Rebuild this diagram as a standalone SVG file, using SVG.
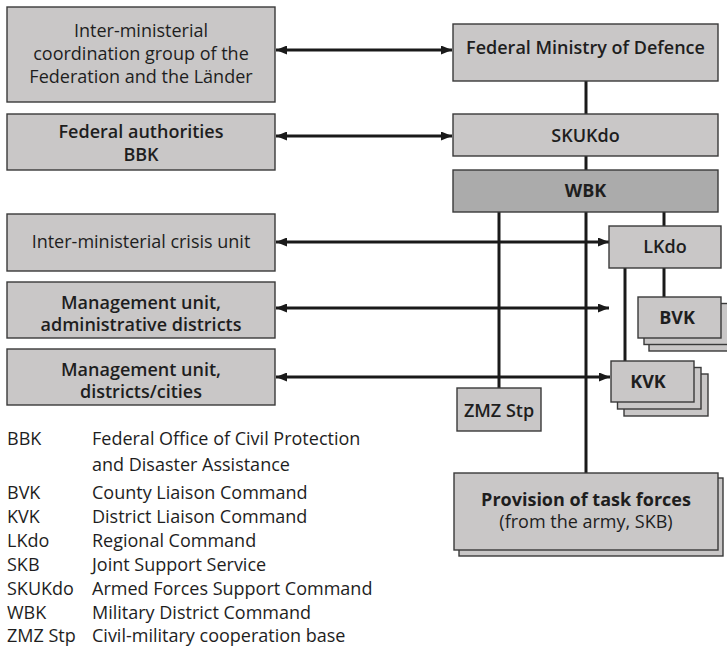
<svg xmlns="http://www.w3.org/2000/svg" width="727" height="649" viewBox="0 0 727 649">
<defs>
<style>
.box{fill:#c9c7c7;stroke:#3a3a3a;stroke-width:1.4}
.dark{fill:#ababab;stroke:#3a3a3a;stroke-width:1.4}
.ln{stroke:#1a1a1a;stroke-width:3;fill:none}
.arr{stroke:#1a1a1a;stroke-width:3;fill:none;marker-start:url(#ah);marker-end:url(#ah)}
text{font-family:"Open Sans","Liberation Sans",sans-serif;font-size:18px;fill:#1e1e1e}
.c{text-anchor:middle}
.b{font-weight:600}
.bb{font-weight:700}
</style>
<marker id="ah" viewBox="0 0 11 9" refX="11" refY="4.5" markerWidth="11" markerHeight="9" markerUnits="userSpaceOnUse" orient="auto-start-reverse">
<path d="M0,0 L11,4.5 L0,9 z" fill="#1a1a1a"/>
</marker>
</defs>

<g id="connectors">
<line class="arr" x1="276" y1="50" x2="452" y2="50"/>
<line class="arr" x1="276" y1="136" x2="452" y2="136"/>
<line class="arr" x1="276" y1="242" x2="609" y2="242"/>
<line class="arr" x1="276" y1="308" x2="609" y2="308"/>
<line class="arr" x1="276" y1="377" x2="610" y2="377"/>
<line class="ln" x1="586" y1="81" x2="586" y2="114"/>
<line class="ln" x1="586" y1="156" x2="586" y2="170"/>
<line class="ln" x1="499" y1="212" x2="499" y2="388"/>
<line class="ln" x1="586" y1="212" x2="586" y2="473"/>
<line class="ln" x1="664" y1="212" x2="664" y2="226"/>
<line class="ln" x1="664" y1="268" x2="664" y2="297"/>
<line class="ln" x1="625" y1="268" x2="625" y2="361"/>
</g>

<g id="coord-group">
<rect class="box" x="7" y="7" width="268" height="95"/>
<text class="c" x="141" y="37">Inter-ministerial</text>
<text class="c" x="141" y="60">coordination group of the</text>
<text class="c" x="141" y="83">Federation and the Länder</text>
</g>
<g id="federal-authorities">
<rect class="box" x="7" y="114" width="268" height="56"/>
<text class="c b" x="141" y="138">Federal authorities</text>
<text class="c b" x="141" y="161">BBK</text>
</g>
<g id="crisis-unit">
<rect class="box" x="7" y="214" width="268" height="57"/>
<text class="c" x="141" y="248">Inter-ministerial crisis unit</text>
</g>
<g id="mgmt-admin">
<rect class="box" x="7" y="282" width="268" height="56"/>
<text class="c b" x="141" y="309">Management unit,</text>
<text class="c b" x="141" y="331">administrative districts</text>
</g>
<g id="mgmt-cities">
<rect class="box" x="7" y="349" width="268" height="56"/>
<text class="c b" x="141" y="376">Management unit,</text>
<text class="c b" x="141" y="398">districts/cities</text>
</g>

<g id="bmvg">
<rect class="box" x="453" y="24" width="265" height="57"/>
<text class="c b" x="585.5" y="54">Federal Ministry of Defence</text>
</g>
<g id="skukdo">
<rect class="box" x="453" y="114" width="265" height="42"/>
<text class="c b" x="585.5" y="142">SKUKdo</text>
</g>
<g id="wbk">
<rect class="dark" x="453" y="170" width="265" height="42"/>
<text class="c bb" x="585.5" y="197">WBK</text>
</g>
<g id="lkdo">
<rect class="box" x="609" y="226" width="112" height="42"/>
<text class="c b" x="665" y="253">LKdo</text>
</g>
<g id="bvk">
<rect class="box" x="649" y="310" width="84" height="41"/>
<rect class="box" x="644" y="303.5" width="84" height="41"/>
<rect class="box" x="638" y="297" width="83" height="41"/>
<text class="c bb" x="677" y="324">BVK</text>
</g>
<g id="kvk">
<rect class="box" x="624" y="374" width="84" height="42"/>
<rect class="box" x="617.5" y="367.5" width="83.5" height="41.5"/>
<rect class="box" x="611" y="361" width="83" height="41"/>
<text class="c bb" x="648" y="388">KVK</text>
</g>
<g id="zmz">
<rect class="box" x="457" y="388" width="84" height="43"/>
<text class="c b" x="499" y="417">ZMZ Stp</text>
</g>
<g id="provision">
<rect class="box" x="459" y="478" width="264" height="78"/>
<rect class="box" x="454" y="473" width="264" height="77"/>
<text class="c bb" x="586" y="506">Provision of task forces</text>
<text class="c" x="586" y="528">(from the army, SKB)</text>
</g>

<g id="legend">
<text x="7" y="445">BBK</text><text x="92" y="445">Federal Office of Civil Protection</text>
<text x="92" y="471">and Disaster Assistance</text>
<text x="7" y="499">BVK</text><text x="92" y="499">County Liaison Command</text>
<text x="7" y="523">KVK</text><text x="92" y="523">District Liaison Command</text>
<text x="7" y="547">LKdo</text><text x="92" y="547">Regional Command</text>
<text x="7" y="571">SKB</text><text x="92" y="571">Joint Support Service</text>
<text x="7" y="595">SKUKdo</text><text x="92" y="595">Armed Forces Support Command</text>
<text x="7" y="619">WBK</text><text x="92" y="619">Military District Command</text>
<text x="7" y="642">ZMZ Stp</text><text x="92" y="642">Civil-military cooperation base</text>
</g>
</svg>
